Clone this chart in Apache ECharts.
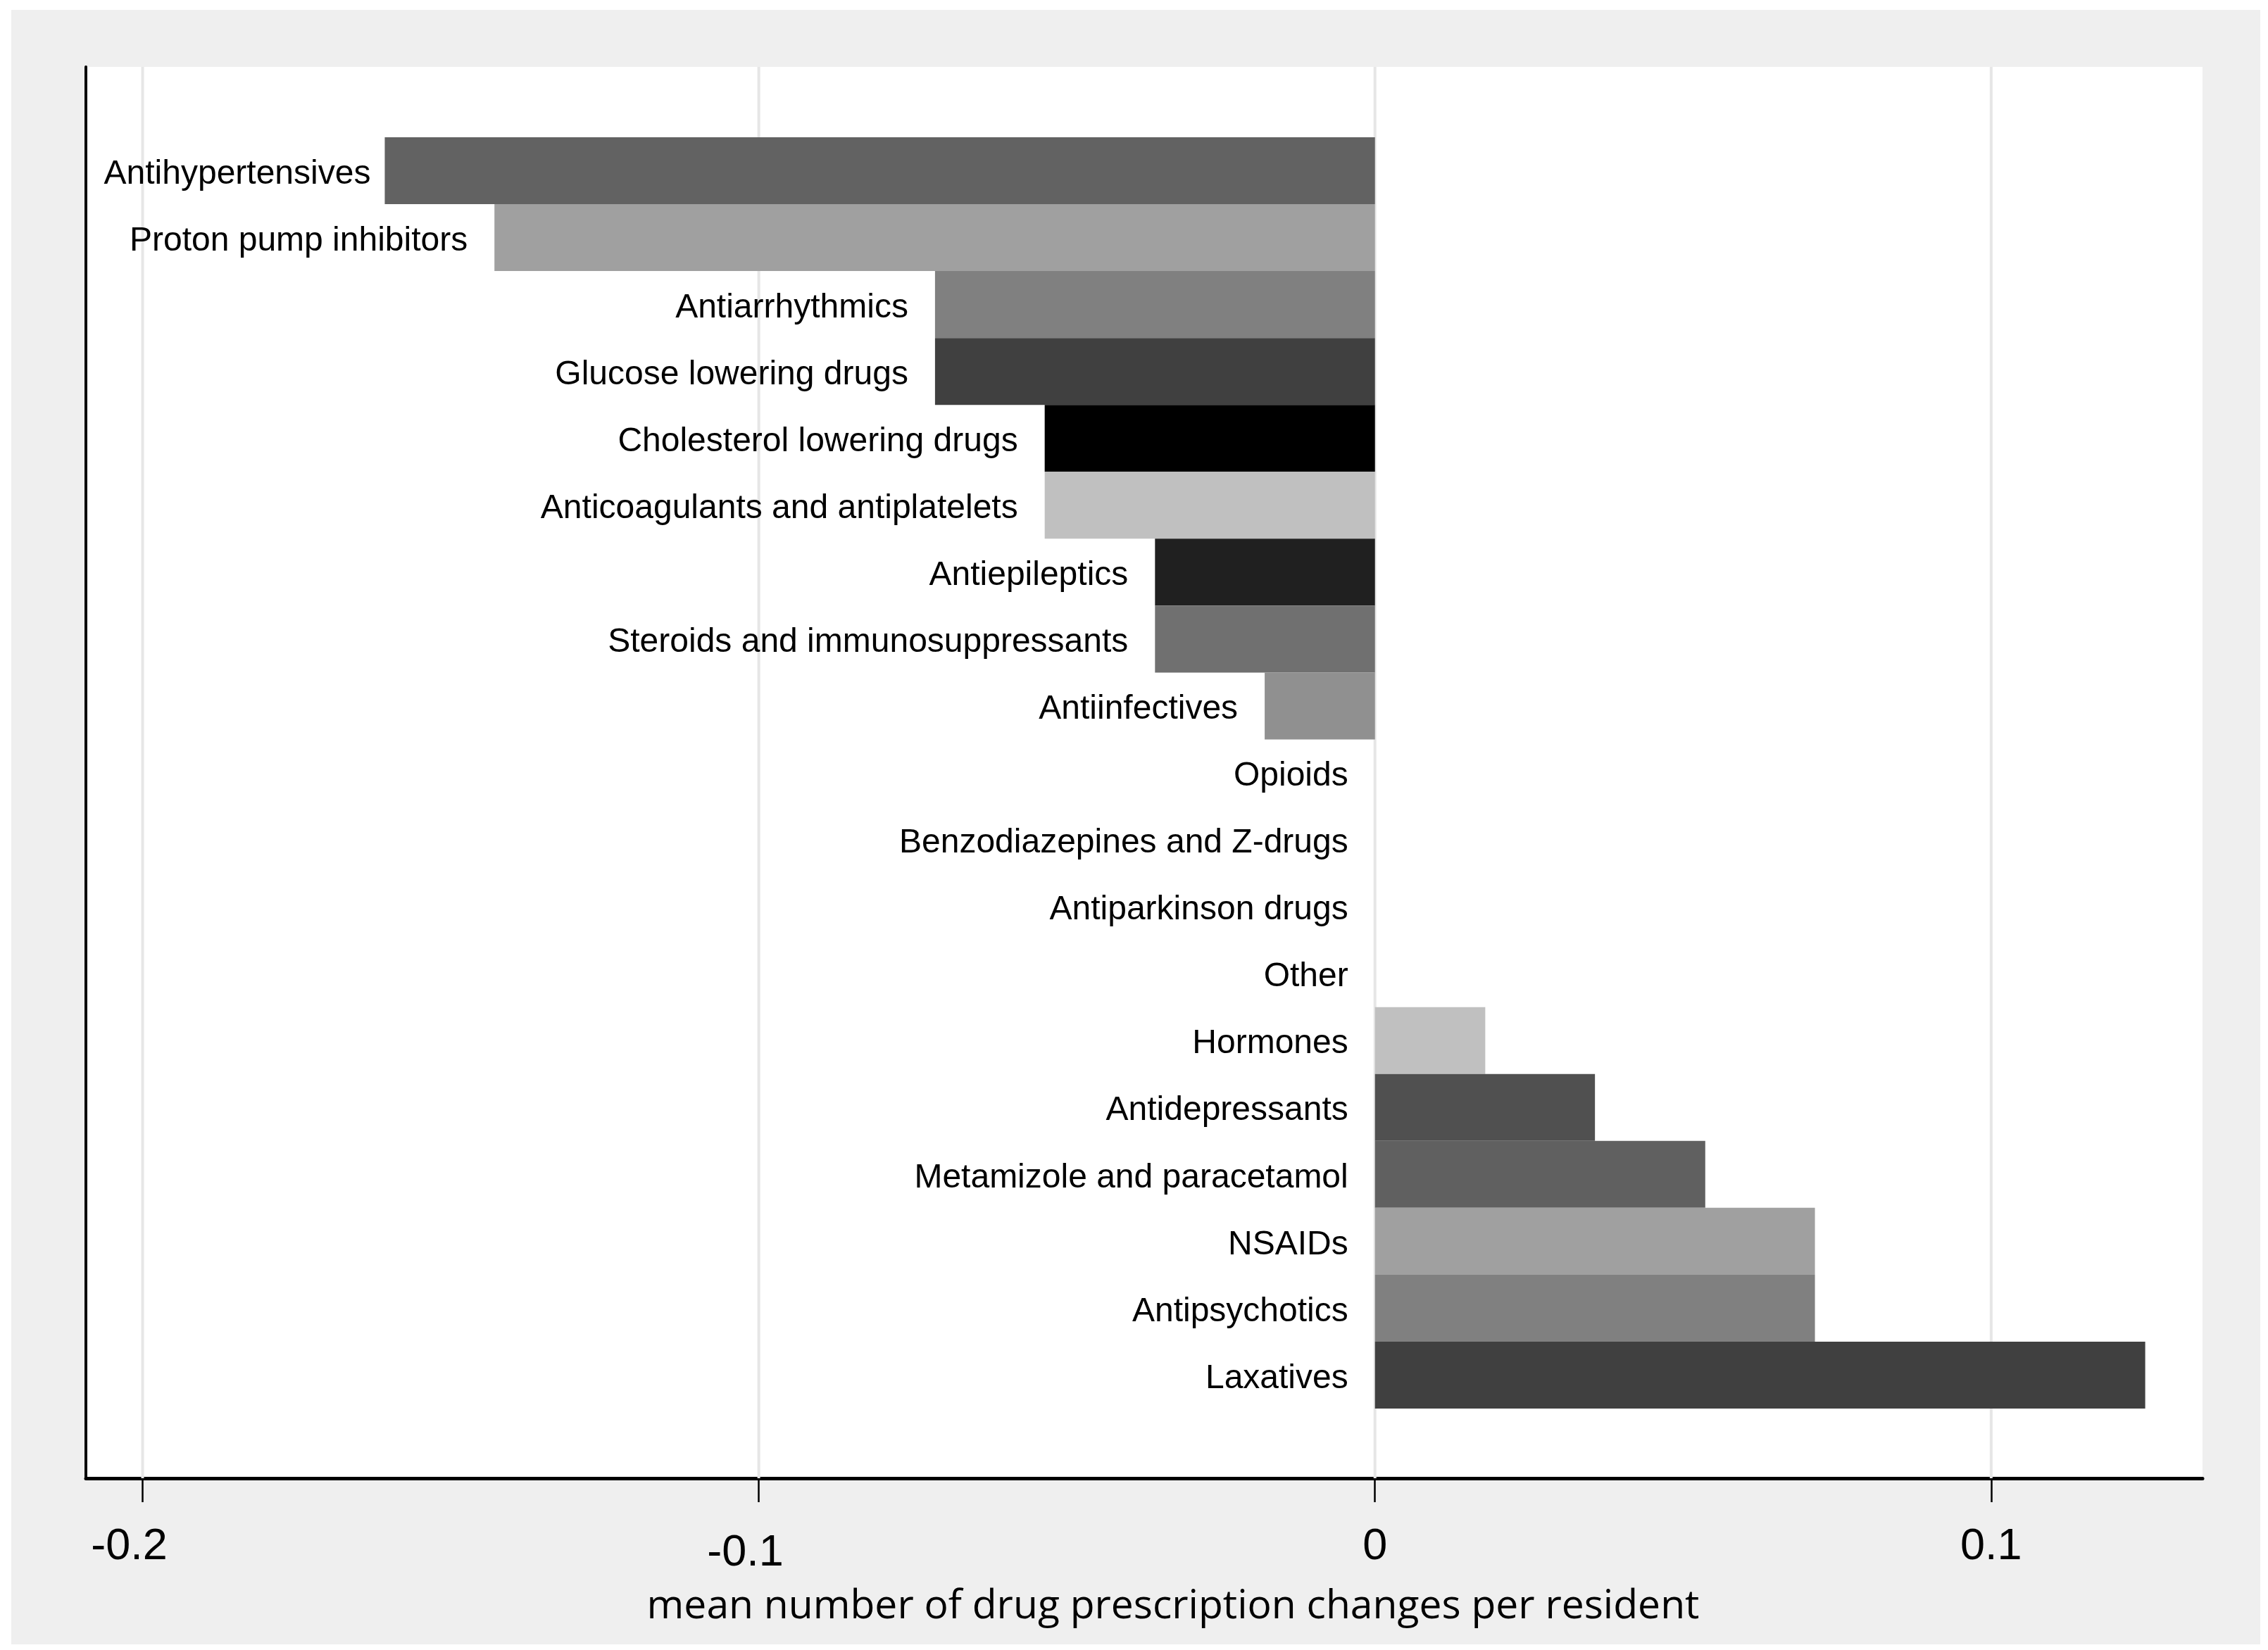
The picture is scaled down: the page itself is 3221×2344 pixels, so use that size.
<!DOCTYPE html>
<html>
<head>
<meta charset="utf-8">
<script src="https://cdn.jsdelivr.net/npm/echarts@6/dist/echarts.min.js"></script>
<style>
  html, body { margin: 0; padding: 0; background: #ffffff; width: 3221px; height: 2344px; overflow: hidden; }
  #chart { position: absolute; left: 16px; top: 14px; width: 3194px; height: 2322px; }
</style>
</head>
<body>
<div id="chart"></div>
<script>
// Drug classes (top to bottom)
var categories = [
  'Antihypertensives', 'Proton pump inhibitors', 'Antiarrhythmics', 'Glucose lowering drugs',
  'Cholesterol lowering drugs', 'Anticoagulants and antiplatelets', 'Antiepileptics',
  'Steroids and immunosuppressants', 'Antiinfectives', 'Opioids', 'Benzodiazepines and Z-drugs',
  'Antiparkinson drugs', 'Other', 'Hormones', 'Antidepressants', 'Metamizole and paracetamol',
  'NSAIDs', 'Antipsychotics', 'Laxatives'
];
// Mean number of drug prescription changes per resident
var values = [
  -0.1607, -0.1429, -0.0714, -0.0714,
  -0.0536, -0.0536, -0.0357,
  -0.0357, -0.0179, 0, 0,
  0, 0, 0.0179, 0.0357, 0.0536,
  0.0714, 0.0714, 0.125
];
var barColors = [
  '#626262', '#a0a0a0', '#808080', '#404040',
  '#000000', '#c0c0c0', '#202020',
  '#707070', '#909090', '#909090', '#909090',
  '#909090', '#909090', '#c0c0c0', '#505050', '#606060',
  '#a0a0a0', '#808080', '#404040'
];
var tickValues = [-0.2, -0.1, 0, 0.1];
var tickLabels = ['-0.2', '-0.1', '0', '0.1'];
var axisTitle = 'mean number of drug prescription changes per resident';

var X_MIN = -0.2092, X_MAX = 0.1343;

var chart = echarts.init(document.getElementById('chart'), null, { renderer: 'canvas' });

var option = {
  backgroundColor: '#efefef',
  animation: false,
  grid: [
    { left: 106, right: 82, top: 81, bottom: 236, show: true, backgroundColor: '#ffffff', borderWidth: 0 },
    { left: 106, right: 82, top: 181, bottom: 335, show: false }
  ],
  xAxis: [
    {
      type: 'value', gridIndex: 0, min: X_MIN, max: X_MAX,
      axisLine: { show: true, onZero: false, lineStyle: { color: '#000000', width: 5 } },
      axisTick: { show: true, length: 34, customValues: tickValues, lineStyle: { color: '#000000', width: 2.5 } },
      splitLine: { show: false },
      axisLabel: {
        show: true, customValues: tickValues, margin: 66,
        formatter: function (v) {
          var idx = -1;
          for (var i = 0; i < tickValues.length; i++) { if (Math.abs(tickValues[i] - v) < 1e-9) idx = i; }
          if (idx < 0) return '';
          if (idx === 1) return '{low|' + tickLabels[idx] + '}';
          if (tickValues[idx] < 0) return '{neg|' + tickLabels[idx] + '}';
          return '{n|' + tickLabels[idx] + '}';
        },
        rich: {
          n: { fontFamily: 'Liberation Sans', fontSize: 63, lineHeight: 63, color: '#000000' },
          neg: { fontFamily: 'Liberation Sans', fontSize: 63, lineHeight: 63, color: '#000000', padding: [0, 38, 0, 0] },
          low: { fontFamily: 'Liberation Sans', fontSize: 63, lineHeight: 81, color: '#000000', padding: [0, 38, 0, 0] }
        }
      },
      name: axisTitle, nameLocation: 'middle', nameGap: 154,
      nameTextStyle: { fontFamily: 'Open Sans', fontSize: 57, color: '#000000', padding: [0, 0, 0, 82] }
    },
    {
      type: 'value', gridIndex: 1, min: X_MIN, max: X_MAX, show: false,
      splitLine: { show: false }
    }
  ],
  yAxis: [
    {
      type: 'value', gridIndex: 0, min: 0, max: 1,
      axisLine: { show: true, onZero: false, lineStyle: { color: '#000000', width: 4 } },
      axisTick: { show: false }, axisLabel: { show: false }, splitLine: { show: false }
    },
    {
      type: 'category', gridIndex: 1, data: categories, inverse: true, show: false
    }
  ],
  series: [
    {
      type: 'custom', xAxisIndex: 0, yAxisIndex: 0, z: 1, silent: true, clip: false,
      data: tickValues.map(function (v) { return [v, 0]; }),
      renderItem: function (params, api) {
        var x = api.coord([api.value(0), 0])[0];
        var cs = params.coordSys;
        return {
          type: 'line',
          shape: { x1: x, y1: cs.y, x2: x, y2: cs.y + cs.height },
          style: { stroke: '#e6e6e6', lineWidth: 4 }
        };
      }
    },
    {
      type: 'bar', xAxisIndex: 1, yAxisIndex: 1, z: 3,
      barCategoryGap: '0%',
      data: values.map(function (v, i) {
        var item = { value: v, itemStyle: { color: barColors[i] } };
        if (i === 0) { item.label = { distance: 20 }; }
        return item;
      }),
      label: {
        show: true, position: 'left', distance: 38, offset: [0, 5],
        formatter: '{b}',
        fontFamily: 'Liberation Sans', fontSize: 48, color: '#000000'
      }
    }
  ]
};
chart.setOption(option);
</script>
</body>
</html>
